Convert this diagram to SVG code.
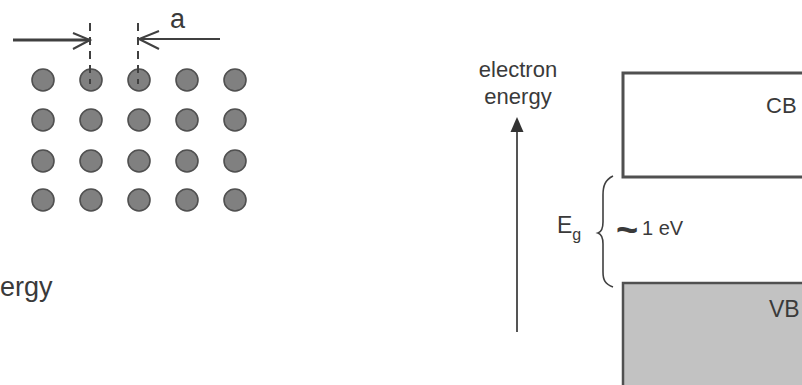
<svg xmlns="http://www.w3.org/2000/svg" width="802" height="385" viewBox="0 0 802 385">
<defs>
<style>
.t{font-family:"Liberation Sans",Arial,sans-serif;fill:#3a3a3a}
.atom{fill:#808080;stroke:#505050;stroke-width:1.6}
.ln{stroke:#404040;fill:none}
.dash{stroke:#404040;stroke-width:2;stroke-dasharray:8,6;fill:none}
</style>
</defs>
<rect width="802" height="385" fill="#fff"/>

<g id="lattice">
<g id="row1">
<circle class="atom" cx="43" cy="80" r="11"/><circle class="atom" cx="91" cy="80" r="11"/><circle class="atom" cx="139" cy="80" r="11"/><circle class="atom" cx="187" cy="80" r="11"/><circle class="atom" cx="235" cy="80" r="11"/>
</g>
<g id="row2">
<circle class="atom" cx="43" cy="120" r="11"/><circle class="atom" cx="91" cy="120" r="11"/><circle class="atom" cx="139" cy="120" r="11"/><circle class="atom" cx="187" cy="120" r="11"/><circle class="atom" cx="235" cy="120" r="11"/>
</g>
<g id="row3">
<circle class="atom" cx="43" cy="161" r="11"/><circle class="atom" cx="91" cy="161" r="11"/><circle class="atom" cx="139" cy="161" r="11"/><circle class="atom" cx="187" cy="161" r="11"/><circle class="atom" cx="235" cy="161" r="11"/>
</g>
<g id="row4">
<circle class="atom" cx="43" cy="200" r="11"/><circle class="atom" cx="91" cy="200" r="11"/><circle class="atom" cx="139" cy="200" r="11"/><circle class="atom" cx="187" cy="200" r="11"/><circle class="atom" cx="235" cy="200" r="11"/>
</g>
</g>

<g id="spacing">
<line class="dash" x1="90" y1="23" x2="90" y2="84"/>
<line class="dash" x1="138" y1="23" x2="138" y2="84"/>
<text class="t" x="170" y="28" font-size="27">a</text>
</g>

<g id="label-energy-left">
<text class="t" x="0" y="296" font-size="27">ergy</text>
</g>

<g id="axis-label">
<text class="t" x="518" y="77" font-size="22" text-anchor="middle">electron</text>
<text class="t" x="518" y="104" font-size="22" text-anchor="middle">energy</text>
</g>

<g id="CB">
<rect x="623" y="73" width="200" height="104" fill="#fff" stroke="#505050" stroke-width="3"/>
<text class="t" x="766" y="113" font-size="22">CB</text>
</g>

<g id="VB">
<rect x="623" y="283" width="200" height="120" fill="#c2c2c2" stroke="#505050" stroke-width="2.5"/>
<text class="t" x="769" y="317" font-size="23">VB</text>
</g>

<g id="gap">
<path class="ln" stroke-width="1.6" d="M613,176 C605,180 603,186 603,195 L603,222 C603,229 601,232 598,233 C601,234 603,237 603,244 L603,272 C603,280 605,284 613,287"/>
<text class="t" x="557" y="233" font-size="23">E<tspan font-size="16" dy="7">g</tspan></text>
<text class="t" x="616" y="243" font-size="38" font-weight="bold">~</text>
<text class="t" x="642" y="235" font-size="20">1 eV</text>
</g>

<g id="connectors">
<line class="ln" stroke-width="3" x1="13" y1="40" x2="89" y2="40"/>
<polyline class="ln" stroke-width="2" points="73,33 90,40 73,49"/>
<line class="ln" stroke-width="2" x1="220" y1="39" x2="139" y2="39"/>
<polyline class="ln" stroke-width="2" points="159,31 139,39 159,49"/>
<line stroke="#555" stroke-width="2" x1="517" y1="332" x2="517" y2="130"/>
<polygon points="517,117 510.5,132 523.5,132" fill="#333"/>
</g>
</svg>
